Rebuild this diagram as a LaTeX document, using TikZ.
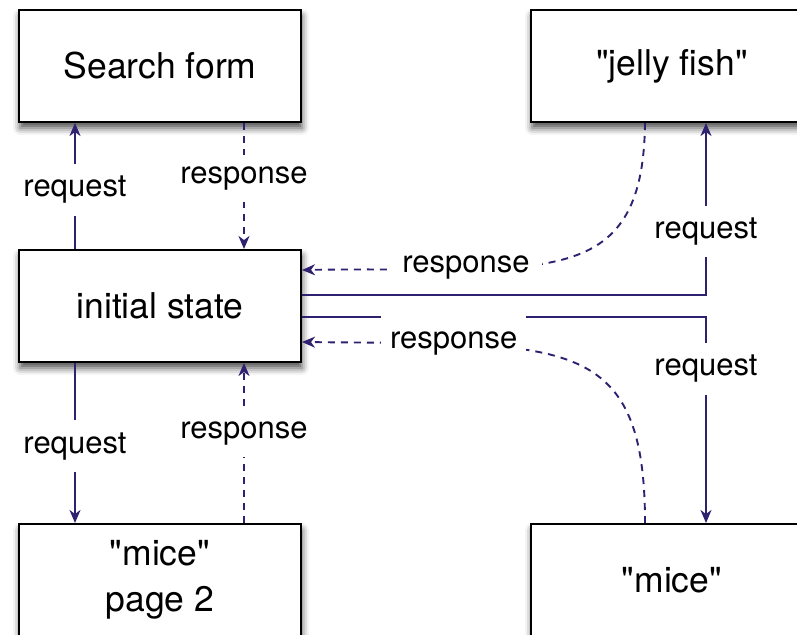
\documentclass[tikz,border=0pt]{standalone}
\usepackage{fontspec}
\setmainfont{TeX Gyre Heros}[Ligatures=TeXOff]
\usetikzlibrary{arrows.meta,shadows.blur}
\definecolor{flow}{RGB}{48,32,112}
\begin{document}
\begin{tikzpicture}[x=1pt,y=-1pt,
  state/.style={draw=black,line width=2pt,fill=white,minimum width=282pt,
    minimum height=112pt,inner sep=0pt,align=center,
    font=\fontsize{35.5}{46}\selectfont,
    blur shadow={shadow xshift=1pt,shadow yshift=-6pt,shadow blur radius=7pt,shadow opacity=70}},
  req/.style={draw=flow,line width=1.9pt,-{Stealth[length=13pt,width=11pt,inset=4pt]}},
  resp/.style={req,dash pattern=on 7pt off 6pt},
  tag/.style={fill=white,inner xsep=9pt,inner ysep=12pt,text=black,
    font=\fontsize{31}{37}\selectfont}]
\useasboundingbox (0,0) rectangle (797,634);
\clip (0,0) rectangle (797,634);

% states
\node[state] (sf)   at (160,66)  {Search form};
\node[state] (jf)   at (672,66)  {"jelly fish"};
\node[state] (init) at (160,306) {initial state};
\node[state] (mp)   at (160,580) {"mice"\\page 2};
\node[state] (mice) at (672,580) {"mice"};

% requests
\draw[req] (init.north -| 75,0) -- node[tag,pos=0.47]{request} (sf.south -| 75,0);
\draw[req] (init.south -| 75,0) -- node[tag,pos=0.52]{request} (mp.north -| 75,0);
\draw[req] (init.east |- 0,295) -| node[tag,pos=0.685]{request} (jf.south -| 706,0);
\draw[req] (init.east |- 0,317) -| node[tag,pos=0.626]{request} (mice.north -| 706,0);

% responses
\draw[resp] (sf.south -| 244,0) -- node[tag,pos=0.44]{response} (init.north -| 244,0);
\draw[resp] (mp.north -| 244,0) -- node[tag,pos=0.56]{response} (init.south -| 244,0);
\draw[resp] (jf.south -| 645,0) .. controls (643,295) and (540,266) ..
  node[tag,inner ysep=5pt,inner xsep=12pt,pos=0.73,yshift=1.5pt]{response} (init.east |- 0,270);
\draw[resp] (mice.north -| 645,0) .. controls (645,330) and (560,345) ..
  node[tag,minimum height=60pt,pos=0.77]{response} (init.east |- 0,342);
\end{tikzpicture}
\end{document}
